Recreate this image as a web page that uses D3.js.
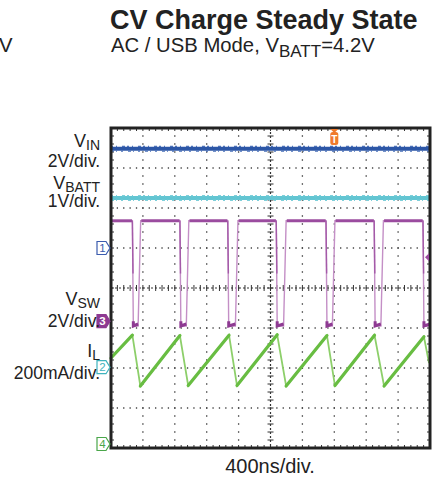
<!DOCTYPE html>
<html>
<head>
<meta charset="utf-8">
<script src="https://cdn.jsdelivr.net/npm/d3@7"></script>
<style>
  html, body { margin: 0; padding: 0; background: #fff; }
  svg { display: block; font-family: "Liberation Sans", Arial, Helvetica, sans-serif; }
</style>
</head>
<body>
<div id="chart"></div>
<script>
// scope screen: 10 horizontal divisions, 8 vertical divisions (center = 0)
const levelVin = 3.48;
const levelVbatt = 2.25;
const vswHigh = 1.68;
const vswLow = -0.95;
const vswFall = [0.67, 2.16, 3.66, 5.18, 6.74, 8.25, 9.78];
const vswRise = [0.93, 2.44, 3.98, 5.49, 7.02, 8.54];
const ilStart = [0, -1.75];
const ilPeakT = [0.67, 2.16, 3.70, 5.21, 6.77, 8.26, 9.81];
const ilPeakV = [-1.18, -1.19, -1.18, -1.17, -1.19, -1.18, -1.22];
const ilValleyT = [0.92, 2.42, 3.95, 5.49, 7.02, 8.56];
const ilValleyV = [-2.45, -2.44, -2.44, -2.45, -2.44, -2.45];
const ilEnd = [9.97, -1.88];
const chanMarks = [
  { n: "1", v: 1.0, color: "#3b5cae", filled: false },
  { n: "3", v: -0.83, color: "#8e3a92", filled: true },
  { n: "2", v: -1.98, color: "#3fb3bd", filled: false },
  { n: "4", v: -3.9, color: "#4aa64a", filled: false }
];
const triggerT = 7.0;

const W = 436, H = 478;
const svg = d3.select("#chart").append("svg").attr("width", W).attr("height", H);

const x = d3.scaleLinear().domain([0, 10]).range([111, 430]);
const y = d3.scaleLinear().domain([-4, 4]).range([448, 128]);

// --- titles ---
svg.append("text").attr("x", 110).attr("y", 29)
  .attr("font-size", 27).attr("font-weight", "bold").attr("fill", "#222")
  .text("CV Charge Steady State");
const sub = svg.append("text").attr("x", 111).attr("y", 52)
  .attr("font-size", 20.3).attr("fill", "#222");
sub.append("tspan").text("AC / USB Mode, V");
sub.append("tspan").attr("dy", 5).attr("font-size", 17).text("BATT");
sub.append("tspan").attr("dy", -5).text("=4.2V");
svg.append("text").attr("x", -1).attr("y", 52).attr("font-size", 20.3).attr("fill", "#222").text("V");

// --- grid ---
const grid = svg.append("g");
d3.range(1, 10).filter(i => i !== 5).forEach(i => {
  grid.append("line")
    .attr("x1", x(i)).attr("x2", x(i)).attr("y1", y(4)).attr("y2", y(-4))
    .attr("stroke", "#444").attr("stroke-width", 1.3)
    .attr("stroke-dasharray", "1.3 6.7").attr("stroke-dashoffset", 0.65);
});
d3.range(-3, 4).filter(j => j !== 0).forEach(j => {
  grid.append("line")
    .attr("x1", x(0)).attr("x2", x(10)).attr("y1", y(j)).attr("y2", y(j))
    .attr("stroke", "#444").attr("stroke-width", 1.3)
    .attr("stroke-dasharray", "1.3 5.08").attr("stroke-dashoffset", 0.65);
});
// center axes with minor ticks
grid.append("line").attr("x1", x(5)).attr("x2", x(5)).attr("y1", y(4)).attr("y2", y(-4))
  .attr("stroke", "#333").attr("stroke-width", 1.2).attr("stroke-dasharray", "2 2");
grid.append("line").attr("x1", x(0)).attr("x2", x(10)).attr("y1", y(0)).attr("y2", y(0))
  .attr("stroke", "#333").attr("stroke-width", 1.2).attr("stroke-dasharray", "2 2");
d3.range(0, 40.01, 1).forEach(k => {
  const v = -4 + k * 0.2;
  grid.append("line").attr("x1", x(5) - 3).attr("x2", x(5) + 3).attr("y1", y(v)).attr("y2", y(v))
    .attr("stroke", "#333").attr("stroke-width", 1);
  grid.append("line").attr("x1", x(0)).attr("x2", x(0) + 3).attr("y1", y(v)).attr("y2", y(v))
    .attr("stroke", "#333").attr("stroke-width", 1);
  grid.append("line").attr("x1", x(10) - 3).attr("x2", x(10)).attr("y1", y(v)).attr("y2", y(v))
    .attr("stroke", "#333").attr("stroke-width", 1);
});
d3.range(0, 50.01, 1).forEach(k => {
  const t = k * 0.2;
  grid.append("line").attr("x1", x(t)).attr("x2", x(t)).attr("y1", y(0) - 3).attr("y2", y(0) + 3)
    .attr("stroke", "#333").attr("stroke-width", 1);
  grid.append("line").attr("x1", x(t)).attr("x2", x(t)).attr("y1", y(4)).attr("y2", y(4) + 3)
    .attr("stroke", "#333").attr("stroke-width", 1);
  grid.append("line").attr("x1", x(t)).attr("x2", x(t)).attr("y1", y(-4) - 3).attr("y2", y(-4))
    .attr("stroke", "#333").attr("stroke-width", 1);
});

// --- traces ---
const line = d3.line().x(d => x(d[0])).y(d => y(d[1]));

// flat noisy-looking level: thick band plus a broken lighter edge
function flatTrace(level, color, edge) {
  svg.append("path").attr("d", line([[0, level], [10, level]]))
    .attr("stroke", color).attr("stroke-width", 4).attr("fill", "none");
  [-0.06, 0.06].forEach((o, k) => {
    svg.append("path").attr("d", line([[0, level + o], [10, level + o]]))
      .attr("stroke", edge).attr("stroke-width", 1.2).attr("fill", "none")
      .attr("stroke-dasharray", k ? "2 3 1 5 3 2" : "3 2 1 4 2 5");
  });
}
flatTrace(levelVin, "#2c56a6", "#4a70b8");
flatTrace(levelVbatt, "#62c5d2", "#7fd0da");

// VSW
const vswPts = [[0, vswHigh]];
vswFall.forEach((f, i) => {
  vswPts.push([f, vswHigh], [f + 0.03, vswLow]);
  if (i < vswRise.length) {
    vswPts.push([vswRise[i] - 0.08, vswLow], [vswRise[i], vswHigh]);
  } else {
    vswPts.push([10, vswLow]);
  }
});
svg.append("path").attr("d", line(vswPts))
  .attr("stroke", "#c48fc6").attr("stroke-width", 1.4).attr("fill", "none");
// darker flat high segments
const highStarts = [0].concat(vswRise.map(r => r + 0.02));
highStarts.forEach((s, i) => {
  svg.append("path").attr("d", line([[s, vswHigh], [vswFall[i] - 0.01, vswHigh]]))
    .attr("stroke", "#9b4c9f").attr("stroke-width", 3).attr("fill", "none");
  svg.append("path").attr("d", line([[vswFall[i], vswHigh], [vswFall[i] + 0.02, (vswHigh + vswLow) / 2]]))
    .attr("stroke", "#a45aa8").attr("stroke-width", 1.4).attr("fill", "none");
});
vswFall.forEach((f, i) => {
  const e = i < vswRise.length ? vswRise[i] - 0.08 : 10;
  svg.append("path").attr("d", line([[f + 0.03, vswLow + 0.12], [f + 0.03, vswLow], [e, vswLow + 0.05]]))
    .attr("stroke", "#8e3a92").attr("stroke-width", 3).attr("fill", "none");
});

// IL
const ilPts = [ilStart];
ilPeakT.forEach((t, i) => {
  ilPts.push([t, ilPeakV[i]]);
  if (i < ilValleyT.length) ilPts.push([ilValleyT[i], ilValleyV[i]]);
});
ilPts.push(ilEnd);
svg.append("path").attr("d", line(ilPts))
  .attr("stroke", "#8dcf6a").attr("stroke-width", 1.8).attr("fill", "none");
// thicker ramps
const rampStarts = [ilStart].concat(ilValleyT.map((t, i) => [t, ilValleyV[i]]));
rampStarts.forEach((s, i) => {
  svg.append("path").attr("d", line([s, [ilPeakT[i], ilPeakV[i]]]))
    .attr("stroke", "#68bd42").attr("stroke-width", 3.2).attr("fill", "none")
    .attr("stroke-linecap", "round");
});

// --- frame ---
svg.append("rect").attr("x", x(0)).attr("y", y(4))
  .attr("width", x(10) - x(0)).attr("height", y(-4) - y(4))
  .attr("fill", "none").attr("stroke", "#222").attr("stroke-width", 3);

// trigger marker
const tx = x(triggerT);
svg.append("path").attr("d", `M${tx - 4},${y(4) + 1} L${tx + 4},${y(4) + 1} L${tx},${y(4) + 5} Z`).attr("fill", "#ef7a2c");
svg.append("rect").attr("x", tx - 4).attr("y", y(4) + 4).attr("width", 8).attr("height", 13).attr("rx", 2.5)
  .attr("fill", "#ef7a2c");
svg.append("text").attr("x", tx).attr("y", y(4) + 15).attr("text-anchor", "middle")
  .attr("font-size", 10).attr("font-weight", "bold").attr("fill", "#fff").text("T");

// right-side VSW marker
svg.append("path").attr("d", `M${x(10) - 5},${y(0.77)} L${x(10) - 1},${y(0.77) - 4} L${x(10) - 1},${y(0.77) + 4} Z`)
  .attr("fill", "#9b4c9f");

// channel markers
chanMarks.forEach(m => {
  const cy = y(m.v), r = x(0) - 1;
  const g = svg.append("g");
  g.append("path")
    .attr("d", `M${r - 13},${cy - 6.5} L${r - 4},${cy - 6.5} L${r},${cy} L${r - 4},${cy + 6.5} L${r - 13},${cy + 6.5} Z`)
    .attr("fill", m.filled ? m.color : "#fff").attr("stroke", m.color).attr("stroke-width", 1.2);
  g.append("text").attr("x", r - 7.5).attr("y", cy + 4).attr("text-anchor", "middle")
    .attr("font-size", 11.5).attr("font-weight", m.filled ? "bold" : "normal")
    .attr("fill", m.filled ? "#fff" : m.color).text(m.n);
});

// --- left labels ---
function label(main, subTxt, yBase) {
  const t = svg.append("text").attr("x", 100).attr("y", yBase)
    .attr("text-anchor", "end").attr("font-size", 18).attr("fill", "#222");
  t.append("tspan").text(main);
  t.append("tspan").attr("dy", 3).attr("font-size", 14).text(subTxt);
}
function scaleTxt(txt, yBase) {
  svg.append("text").attr("x", 100).attr("y", yBase)
    .attr("text-anchor", "end").attr("font-size", 17.5).attr("fill", "#222").text(txt);
}
label("V", "IN", 147);
scaleTxt("2V/div.", 167);
label("V", "BATT", 189);
scaleTxt("1V/div.", 207);
label("V", "SW", 305);
scaleTxt("2V/div.", 327);
label("I", "L", 357);
scaleTxt("200mA/div.", 379);

// bottom
svg.append("text").attr("x", 270).attr("y", 473).attr("text-anchor", "middle")
  .attr("font-size", 20).attr("fill", "#222").text("400ns/div.");
</script>
</body>
</html>
